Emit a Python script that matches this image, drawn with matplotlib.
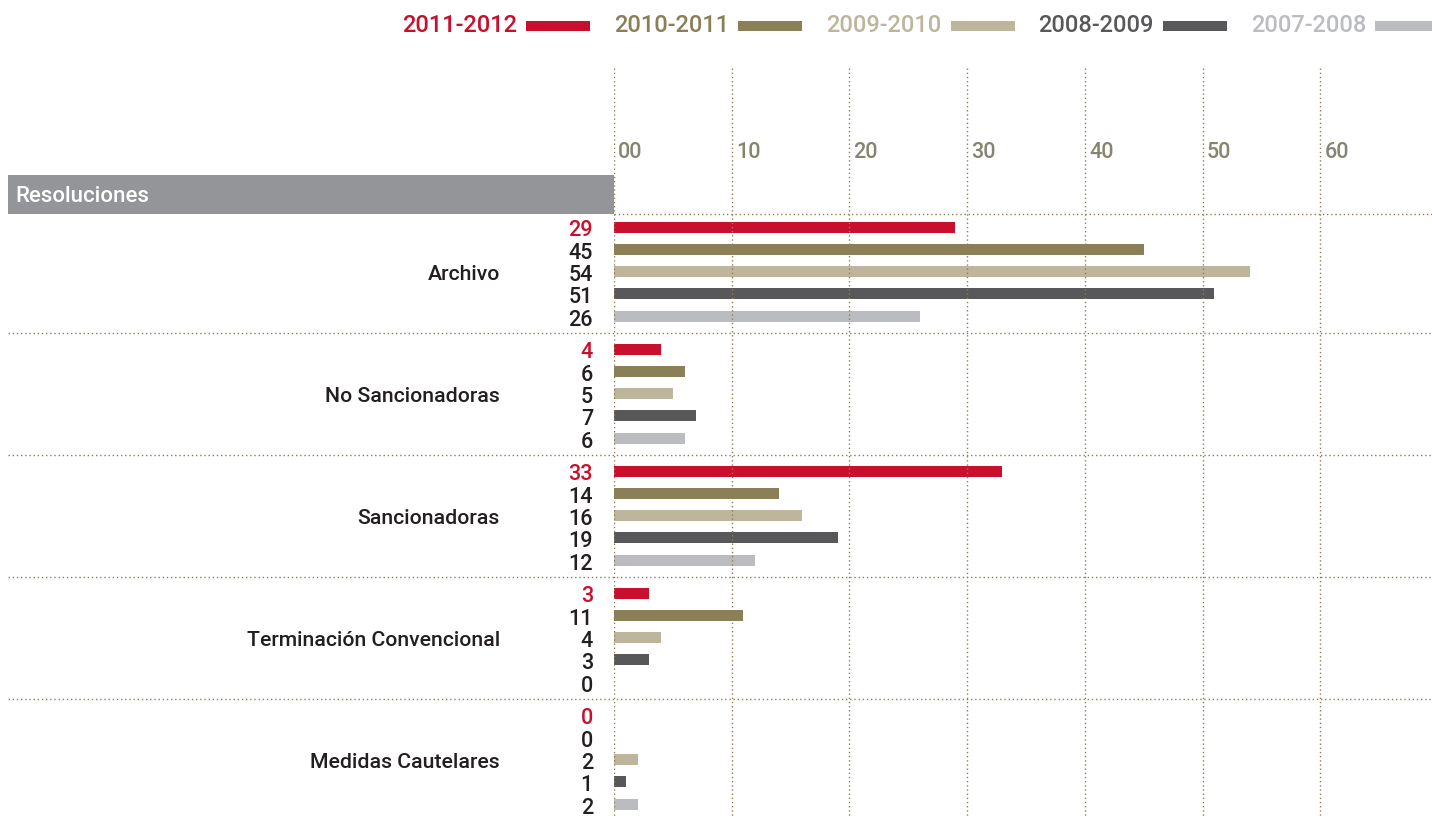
import matplotlib
matplotlib.use("Agg")
import matplotlib.pyplot as plt
from matplotlib.patches import Rectangle

plt.rcParams["font.family"] = ["Roboto", "DejaVu Sans"]
plt.rcParams["font.weight"] = "medium"

# data
categories = ["Archivo", "No Sancionadoras", "Sancionadoras",
              "Terminación Convencional", "Medidas Cautelares"]
seasons = ["2011-2012", "2010-2011", "2009-2010", "2008-2009", "2007-2008"]
values = {
    "2011-2012": [29, 4, 33, 3, 0],
    "2010-2011": [45, 6, 14, 11, 0],
    "2009-2010": [54, 5, 16, 4, 2],
    "2008-2009": [51, 7, 19, 3, 1],
    "2007-2008": [26, 6, 12, 0, 2],
}
ticks = [0, 10, 20, 30, 40, 50, 60]
tick_labels = ["00", "10", "20", "30", "40", "50", "60"]

colors = ["#c8102e", "#8a7f56", "#bdb59c", "#58585a", "#bbbcc0"]
grid_col = "#8a7f56"
text_dark = "#231f20"

W, H = 1432, 816
x0 = 614          # pixel where value 0 sits
px_per_unit = 11.77
first_bar = 227
group_step = 122
bar_step = 22.3
bar_h = 11

fig = plt.figure(figsize=(W / 100, H / 100), dpi=100)

# overlay axes in pixel units for labels, header, separators
ov = fig.add_axes([0, 0, 1, 1])
ov.set_xlim(0, W)
ov.set_ylim(H, 0)
ov.axis("off")

# bar axes: x in data units, y in pixel units
ax = fig.add_axes([x0 / W, 0, (W - x0) / W, 1])
ax.set_xlim(0, (W - x0) / px_per_unit)
ax.set_ylim(H, 0)
ax.axis("off")
ax.patch.set_alpha(0)

# header box
ov.add_patch(Rectangle((8, 175), x0 - 8, 39, color="#939598", lw=0))
ov.text(15, 196, "Resoluciones", color="white", fontsize=16,
        ha="left", va="center")

# vertical grid + tick labels
ax.vlines(ticks, 68, H, colors=grid_col, linestyles=(0, (1, 2)), lw=1)
for t, lab in zip(ticks, tick_labels):
    ax.text(t + 0.35, 152, lab, color="#85856f", fontsize=15.5,
            ha="left", va="center")

# horizontal dotted lines
ax.hlines(214, 0, (W - x0) / px_per_unit, colors=grid_col,
          linestyles=(0, (1, 2)), lw=1)
for g in range(1, len(categories)):
    y = first_bar - 13 + g * group_step - 3
    ov.hlines(y, 8, W, colors=grid_col, linestyles=(0, (1, 2)), lw=1)

# bars and labels
for g, cat in enumerate(categories):
    for s, season in enumerate(seasons):
        y = first_bar + g * group_step + s * bar_step
        v = values[season][g]
        if v > 0:
            ax.barh(y, v, height=bar_h, color=colors[s], lw=0)
        ov.text(593, y + 4, str(v), color=colors[0] if s == 0 else text_dark,
                fontsize=15.5, ha="right", va="center")
    ymid = first_bar + g * group_step + 2 * bar_step
    ov.text(500, ymid + 3, cat, color=text_dark, fontsize=15.3,
            ha="right", va="center")

# legend across the top
for i, season in enumerate(seasons):
    xr = 517 + i * 212.3
    ov.text(xr, 25, season, color=colors[i], fontsize=17,
            ha="right", va="center")
    ov.add_patch(Rectangle((xr + 9, 21), 64, 10, color=colors[i], lw=0))

fig.savefig("out.png", dpi=100)
